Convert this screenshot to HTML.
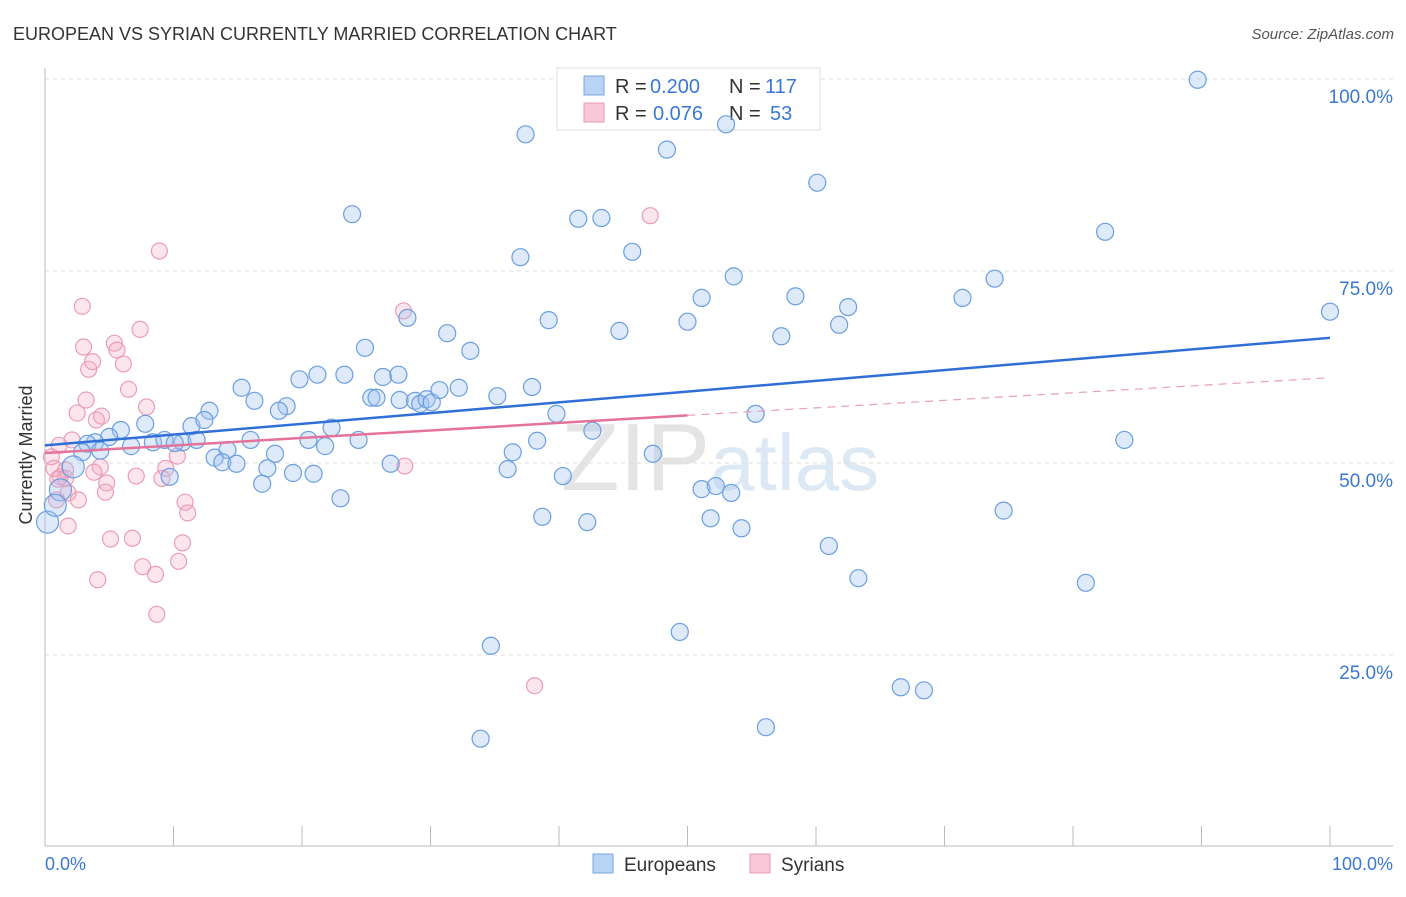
<!DOCTYPE html>
<html><head><meta charset="utf-8"><style>
body{margin:0;background:#fff;font-family:"Liberation Sans",sans-serif}
svg text{font-family:"Liberation Sans",sans-serif}
</style></head><body>
<svg id="chart" width="1406" height="892" xmlns="http://www.w3.org/2000/svg">
<text x="13" y="40" font-size="18" fill="#333">EUROPEAN VS SYRIAN CURRENTLY MARRIED CORRELATION CHART</text>
<text x="1394" y="39" font-size="15" fill="#555" text-anchor="end" font-style="italic">Source: ZipAtlas.com</text>
<text x="720" y="490" font-size="96" fill="#e4e4e4" text-anchor="middle" font-family="Liberation Serif">ZIP<tspan fill="#dde8f5" font-family="Liberation Sans" font-size="80">atlas</tspan></text>
<g id="grid"></g>
<g id="axes"></g>
<g>
<rect x="557" y="68" width="263" height="62" fill="#fff" stroke="#ddd"/>
<rect x="584" y="76" width="20" height="19" fill="#b9d3f5" stroke="#7aa6e0"/>
<rect x="584" y="103" width="20" height="19" fill="#f9c8d8" stroke="#e89ab4"/>
<text x="615" y="93" font-size="20" fill="#333">R =</text>
<text x="650" y="93" font-size="20" fill="#3a78d6">0.200</text>
<text x="729" y="93" font-size="20" fill="#333">N =</text>
<text x="765" y="93" font-size="20" fill="#3a78d6">117</text>
<text x="615" y="120" font-size="20" fill="#333">R =</text>
<text x="653" y="120" font-size="20" fill="#3a78d6">0.076</text>
<text x="729" y="120" font-size="20" fill="#333">N =</text>
<text x="770" y="120" font-size="20" fill="#3a78d6">53</text>
</g>
<g id="pts"></g>
<g id="trend"></g>
<text x="32" y="455" font-size="18" fill="#333" text-anchor="middle" transform="rotate(-90 32 455)">Currently Married</text>
<g>
<rect x="593" y="854" width="20" height="19" fill="#b9d3f5" stroke="#7aa6e0"/>
<text x="624" y="871" font-size="19" fill="#333">Europeans</text>
<rect x="750" y="854" width="20" height="19" fill="#f9c8d8" stroke="#e89ab4"/>
<text x="781" y="871" font-size="19" fill="#333">Syrians</text>
</g>
</svg>
<script>
const blueX=[89.7,37.4,48.4,53.0,60.1,23.9,41.5,43.3,82.5,37.0,45.7,53.6,51.1,58.4,73.9,71.4,62.5,100,61.8,50.0,57.3,39.2,44.7,28.2,31.3,33.1,24.9,19.8,21.2,23.3,26.3,27.5,15.3,16.3,18.8,12.8,18.2,25.4,25.8,27.6,28.8,29.2,29.7,30.1,30.7,32.2,35.2,37.9,39.8,55.3,84.0,42.6,22.3,11.4,12.4,7.8,5.9,5.0,3.9,3.3,2.9,4.3,6.7,8.4,9.3,10.7,11.8,10.1,16.0,20.5,21.8,24.4,38.3,36.4,47.3,14.2,13.2,13.8,14.9,17.9,17.3,19.3,20.9,26.9,36.0,40.3,9.7,2.2,1.2,0.2,0.8,16.9,23.0,51.1,52.2,53.4,74.6,38.7,42.2,51.8,54.2,61.0,63.3,81.0,49.4,34.7,66.6,68.4,33.9,56.1];
const blueY=[99.9,92.8,90.8,94.1,86.5,82.4,81.8,81.9,80.1,76.8,77.5,74.3,71.5,71.7,74.0,71.5,70.3,69.7,68.0,68.4,66.5,68.6,67.2,68.9,66.9,64.6,65.0,60.9,61.5,61.5,61.2,61.5,59.8,58.1,57.4,56.8,56.8,58.5,58.5,58.2,58.1,57.7,58.3,57.9,59.5,59.8,58.7,59.9,56.4,56.4,53.0,54.2,54.6,54.8,55.6,55.1,54.3,53.4,52.7,52.5,51.4,51.6,52.2,52.7,53.0,52.7,53.0,52.6,53.0,53.0,52.2,53.0,52.9,51.4,51.2,51.7,50.7,50.1,49.9,51.2,49.3,48.7,48.6,49.9,49.2,48.3,48.2,49.5,46.5,42.3,44.5,47.3,45.4,46.6,47.0,46.1,43.8,43.0,42.3,42.8,41.5,39.2,35.0,34.4,28.0,26.2,20.8,20.4,14.1,15.6];
const pinkX=[47.1,8.9,2.9,27.9,7.4,5.4,3.0,5.6,6.1,3.4,3.7,6.5,3.2,7.9,2.5,4.4,4.0,2.1,1.1,10.3,0.5,0.7,1.6,4.3,3.8,9.4,7.1,9.1,1.2,1.6,4.8,4.7,1.8,2.6,10.9,11.1,1.8,5.1,6.8,10.7,10.4,7.6,8.6,4.1,8.7,38.1,28.0,0.9,1.0];
const pinkY=[82.2,77.6,70.4,69.8,67.4,65.6,65.1,64.7,62.9,62.2,63.2,59.6,58.2,57.3,56.5,56.1,55.6,53.0,52.3,50.9,50.8,49.3,49.1,49.5,48.8,49.3,48.3,48.0,48.2,48.0,47.4,46.2,46.1,45.2,44.9,43.5,41.8,40.1,40.2,39.6,37.2,36.5,35.5,34.8,30.3,21.0,49.6,45.2,47.9];
const yTicks=[25,50,75,100];
const yTickLabels=["25.0%","50.0%","75.0%","100.0%"];
const xTicks=[0,10,20,30,40,50,60,70,80,90,100];
const blueTrend=[52.3,66.3];
const pinkTrend=[51.3,61.1];
const pinkSolidEnd=50;

const X=v=>45+v*12.85, Y=v=>847-v*7.68;
const NS="http://www.w3.org/2000/svg";
function mk(tag,attrs,parent){const e=document.createElementNS(NS,tag);for(const k in attrs)e.setAttribute(k,attrs[k]);document.getElementById(parent).appendChild(e);return e;}
yTicks.forEach((t,i)=>{
  const l=mk('line',{x1:45,x2:1393,y1:Y(t),y2:Y(t),stroke:'#ddd','stroke-dasharray':'4,4'},'grid');
  
  
  const tx=mk('text',{x:1393,y:Y(t)+24,'font-size':19,fill:'#3a78d6','text-anchor':'end'},'grid');
  tx.textContent=yTickLabels[i];
  
  
});
const ax=mk('line',{x1:45,x2:1393,y1:846,y2:846,stroke:'#bbb'},'axes');


const ay=mk('line',{x1:45,x2:45,y1:68,y2:846,stroke:'#bbb'},'axes');


xTicks.forEach(t=>{
  const l=mk('line',{x1:X(t),x2:X(t),y1:826,y2:846,stroke:'#bbb'},'axes');
  
  
});
const xl0=mk('text',{x:45,y:870,'font-size':18,fill:'#3a78d6'},'axes');xl0.textContent='0.0%';


const xl1=mk('text',{x:1393,y:870,'font-size':18,fill:'#3a78d6','text-anchor':'end'},'axes');xl1.textContent='100.0%';


pinkX.forEach((x,i)=>{
  const c=mk('circle',{cx:X(x),cy:Y(pinkY[i]),r:8,fill:'rgba(246,170,195,0.3)',stroke:'#eb9cb8','stroke-width':1.2},'pts');
  
  
});
blueX.forEach((x,i)=>{
  const r=x<2.5?11:8.5;
  const c=mk('circle',{cx:X(x),cy:Y(blueY[i]),r:r,fill:'rgba(160,195,240,0.35)',stroke:'#6a9fe0','stroke-width':1.2},'pts');
  
  
});
const bl=mk('line',{x1:X(0),y1:Y(blueTrend[0]),x2:X(100),y2:Y(blueTrend[1]),stroke:'#2f6fd6','stroke-width':2.5},'trend');


const pm=pinkTrend[0]+(pinkTrend[1]-pinkTrend[0])*pinkSolidEnd/100;
const pl=mk('line',{x1:X(0),y1:Y(pinkTrend[0]),x2:X(pinkSolidEnd),y2:Y(pm),stroke:'#e4729a','stroke-width':2.5},'trend');


const pd=mk('line',{x1:X(pinkSolidEnd),y1:Y(pm),x2:X(100),y2:Y(pinkTrend[1]),stroke:'#e8a0b8','stroke-width':1.2,'stroke-dasharray':'8,6'},'trend');


</script>
</body></html>
